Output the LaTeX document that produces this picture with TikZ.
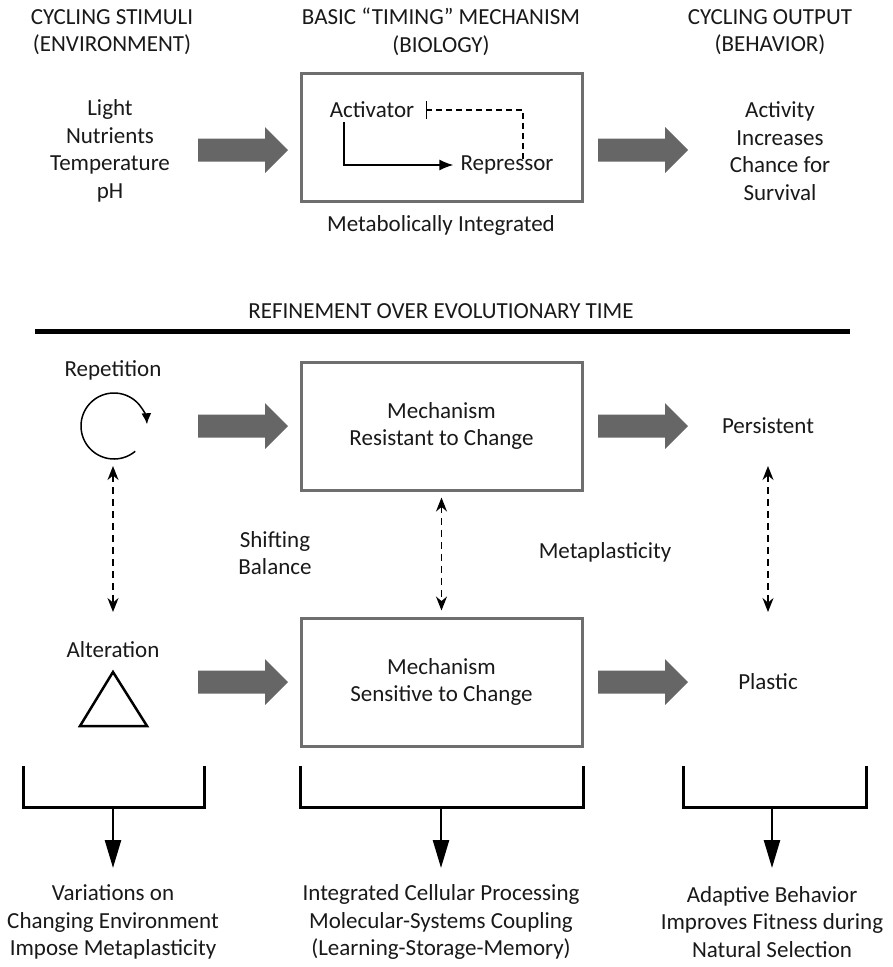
\documentclass[tikz,border=0pt]{standalone}
\usepackage{fontspec}
\setmainfont{Carlito}
\usetikzlibrary{arrows.meta}
\definecolor{arrgray}{HTML}{666666}
\definecolor{boxgray}{HTML}{6E6E6E}
\begin{document}
\begin{tikzpicture}[x=1pt,y=-1pt,
  txt/.style={font=\fontsize{23}{27.5}\selectfont, align=center, inner sep=0pt, text=black!90},
  mbox/.style={draw=boxgray, line width=3pt, minimum width=281pt, minimum height=128pt, inner sep=0pt},
  bigarr/.pic={\fill[arrgray] (0,-11.5) -- (67,-11.5) -- (67,-23) -- (90,0) -- (67,23) -- (67,11.5) -- (0,11.5) -- cycle;},
  dda/.style={dashed, dash pattern=on 7pt off 5pt, line width=1.5pt, {Stealth[length=14pt,width=11pt]}-{Stealth[length=14pt,width=11pt]}},
  brk/.style={line width=3pt, line cap=rect},
  downarr/.style={line width=2.5pt, -{Triangle[length=28pt,width=16pt]}}
]
\useasboundingbox (0,0) rectangle (892,967);

% headers
\node[txt] (h1) at (112,32) {CYCLING STIMULI\\(ENVIRONMENT)};
\node[txt] (h2) at (441,32) {BASIC ``TIMING'' MECHANISM\\(BIOLOGY)};
\node[txt] (h3) at (770,32) {CYCLING OUTPUT\\(BEHAVIOR)};

% top row
\node[txt] (stim) at (110,151) {Light\\Nutrients\\Temperature\\pH};
\node[mbox] (b1) at (441.5,137) {};
\node[txt] (act) at (372,110) {Activator};
\node[txt] (rep) at (507,165) {Repressor};
\node[txt] (meta) at (441,225) {Metabolically Integrated};
\node[txt] (out) at (780,151) {Activity\\Increases\\Chance for\\Survival};
\pic at (198,150) {bigarr};
\pic at (598,150) {bigarr};

\draw[line width=1.4pt, -{Latex[length=14pt,width=11pt]}] ([xshift=-28pt,yshift=-4pt]act.south) |- ([xshift=-7pt]rep.west);
\draw[line width=1.3pt] ([xshift=12pt,yshift=-9pt]act.east) -- ([xshift=12pt,yshift=9pt]act.east);
\draw[line width=1.3pt, dashed, dash pattern=on 6pt off 4pt] ([xshift=12pt]act.east) -| ([xshift=16pt,yshift=-6pt]rep.north);

% separator
\node[txt] (ref) at (441,311) {REFINEMENT OVER EVOLUTIONARY TIME};
\draw[line width=5pt] (35,331) -- (850,331);

% middle rows
\node[txt] (repet) at (113,370) {Repetition};
\coordinate (cyc) at (114,426);
\draw[line width=1.5pt, -{Latex[length=11pt,width=10pt]}] ([shift={(-50:33pt)}]cyc) arc[start angle=-50, end angle=-357, radius=33pt];

\node[mbox] (b2) at (441.5,426) {};
\node[txt] at (b2) {Mechanism\\Resistant to Change};
\node[txt] (pers) at (768,426) {Persistent};
\pic at (198,426) {bigarr};
\pic at (598,426) {bigarr};

\node[txt] (shift) at (275,553) {Shifting\\Balance};
\node[txt] (mplast) at (605,552) {Metaplasticity};

\node[txt] (alt) at (113,650) {Alteration};
\draw[line width=2.5pt, line join=miter] (113,672) -- (147,726) -- (80,726) -- cycle;

\node[mbox] (b3) at (441.5,682) {};
\node[txt] at (b3) {Mechanism\\Sensitive to Change};
\node[txt] (plast) at (768,682) {Plastic};
\pic at (198,682) {bigarr};
\pic at (598,682) {bigarr};

\coordinate (l1) at (113,466); \coordinate (l2) at (113,612);
\coordinate (r1) at (768,466); \coordinate (r2) at (768,612);
\draw[dda] (l1) -- (l2);
\draw[dda] ([yshift=-6pt]b2.south) -- ([yshift=6pt]b3.north);
\draw[dda] (r1) -- (r2);

% brackets
\draw[brk] (23,767) -- (23,807) -- (204,807) -- (204,767);
\draw[brk] (300,767) -- (300,807) -- (583,807) -- (583,767);
\draw[brk] (683,767) -- (683,807) -- (866,807) -- (866,767);

\node[txt] (o1) at (113,922) {Variations on\\Changing Environment\\Impose Metaplasticity};
\node[txt] (o2) at (441,922) {Integrated Cellular Processing\\Molecular-Systems Coupling\\(Learning-Storage-Memory)};
\node[txt] (o3) at (772,922) {Adaptive Behavior\\Improves Fitness during\\Natural Selection};

\coordinate (t1) at (113,868); \coordinate (t2) at (441,868); \coordinate (t3) at (772,868);
\draw[downarr] (113,807) -- (t1);
\draw[downarr] (441,807) -- (t2);
\draw[downarr] (772,807) -- (t3);
\end{tikzpicture}
\end{document}
